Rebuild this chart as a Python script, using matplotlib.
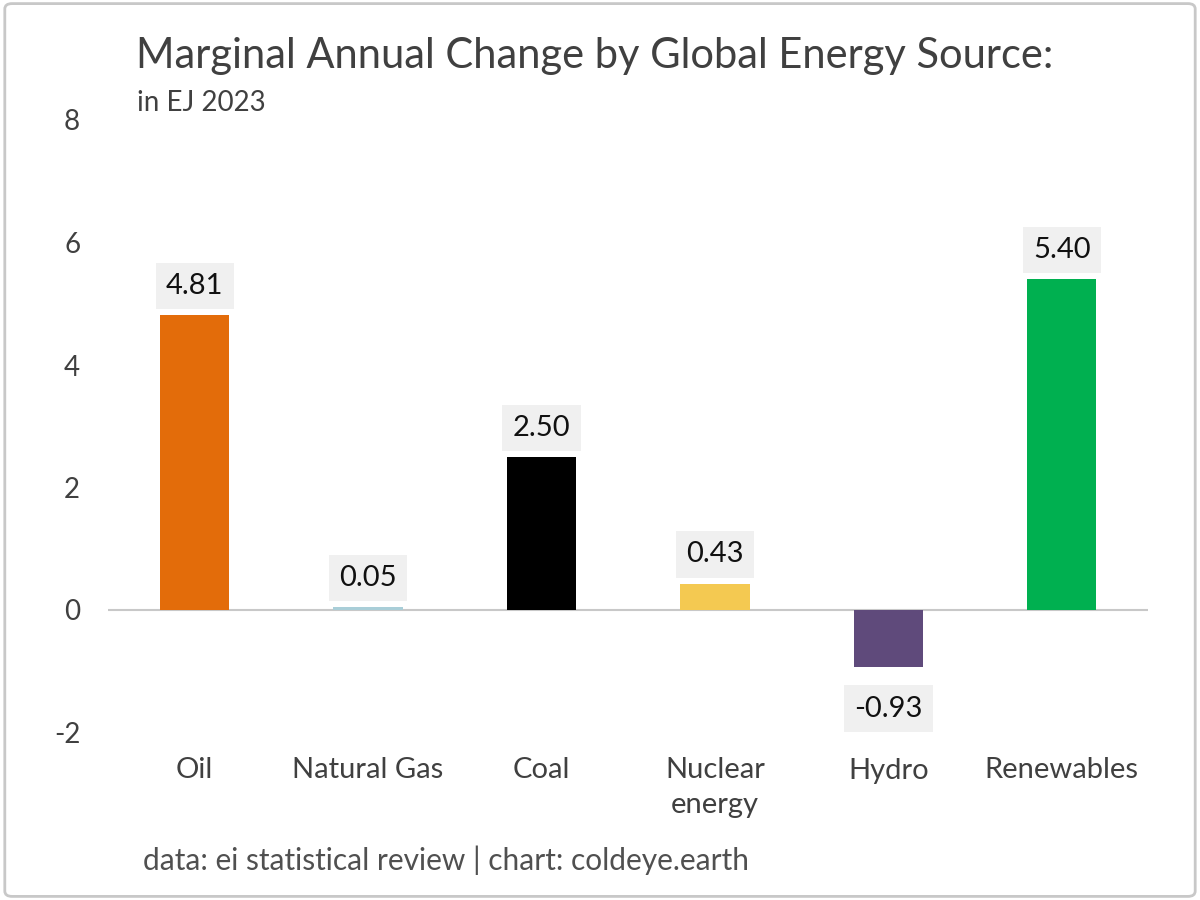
import matplotlib.pyplot as plt
from matplotlib.patches import FancyBboxPatch

# data
sources = ["Oil", "Natural Gas", "Coal", "Nuclear\nenergy", "Hydro", "Renewables"]
changes = [4.81, 0.05, 2.50, 0.43, -0.93, 5.40]
bar_colors = ["#e36c0a", "#a9ced8", "#000000", "#f4c951", "#5f4a7b", "#00b050"]
yticks = [-2, 0, 2, 4, 6, 8]

plt.rcParams['font.family'] = ['Lato', 'DejaVu Sans']

fig = plt.figure(figsize=(12, 9), dpi=100)
ax = fig.add_axes([0.09, 1 - 732.5 / 900, 0.867, (732.5 - 120) / 900])

x = range(len(sources))
ax.bar(x, changes, width=0.4, color=bar_colors, zorder=2)
ax.axhline(0, color="#c8c8c8", lw=1.5, zorder=1)

ax.set_ylim(-2, 8)
ax.set_xlim(-0.5, len(sources) - 0.5)
ax.set_yticks(yticks)
ax.set_yticklabels([str(t) for t in yticks])
ax.set_xticks(list(x))
ax.set_xticklabels(sources, linespacing=1.4)
ax.tick_params(axis="y", length=0, pad=20, labelsize=20, labelcolor="#404040")
ax.tick_params(axis="x", length=0, pad=18, labelsize=21, labelcolor="#404040")
for lbl in ax.get_xticklabels():
    lbl.set_verticalalignment("top")
for s in ax.spines.values():
    s.set_visible(False)

# value labels in grey boxes
for xi, v in zip(x, changes):
    off = 21 if v >= 0 else -30
    ax.annotate(f"{v:.2f}", (xi, v), xytext=(0, off), textcoords="offset points",
                ha="center", va="center", fontsize=21, color="#111111",
                bbox=dict(boxstyle="square,pad=0.35", fc="#f0f0f0", ec="none"))

fig.text(136 / 1200, 1 - 68 / 900, "Marginal Annual Change by Global Energy Source:",
         fontsize=30, color="#404040", va="baseline")
fig.text(137 / 1200, 1 - 111 / 900, "in EJ 2023", fontsize=20, color="#404040", va="baseline")
fig.text(143 / 1200, 1 - 870 / 900, "data: ei statistical review | chart: coldeye.earth",
         fontsize=21.5, color="#505050", va="baseline")

# light rounded border round the figure
fig.patches.append(FancyBboxPatch((0.004, 0.004), 0.992, 0.992, boxstyle="round,pad=0,rounding_size=0.006",
                                  transform=fig.transFigure, fc="none", ec="#c8c8c8", lw=2))

fig.savefig("out.png", dpi=100)
